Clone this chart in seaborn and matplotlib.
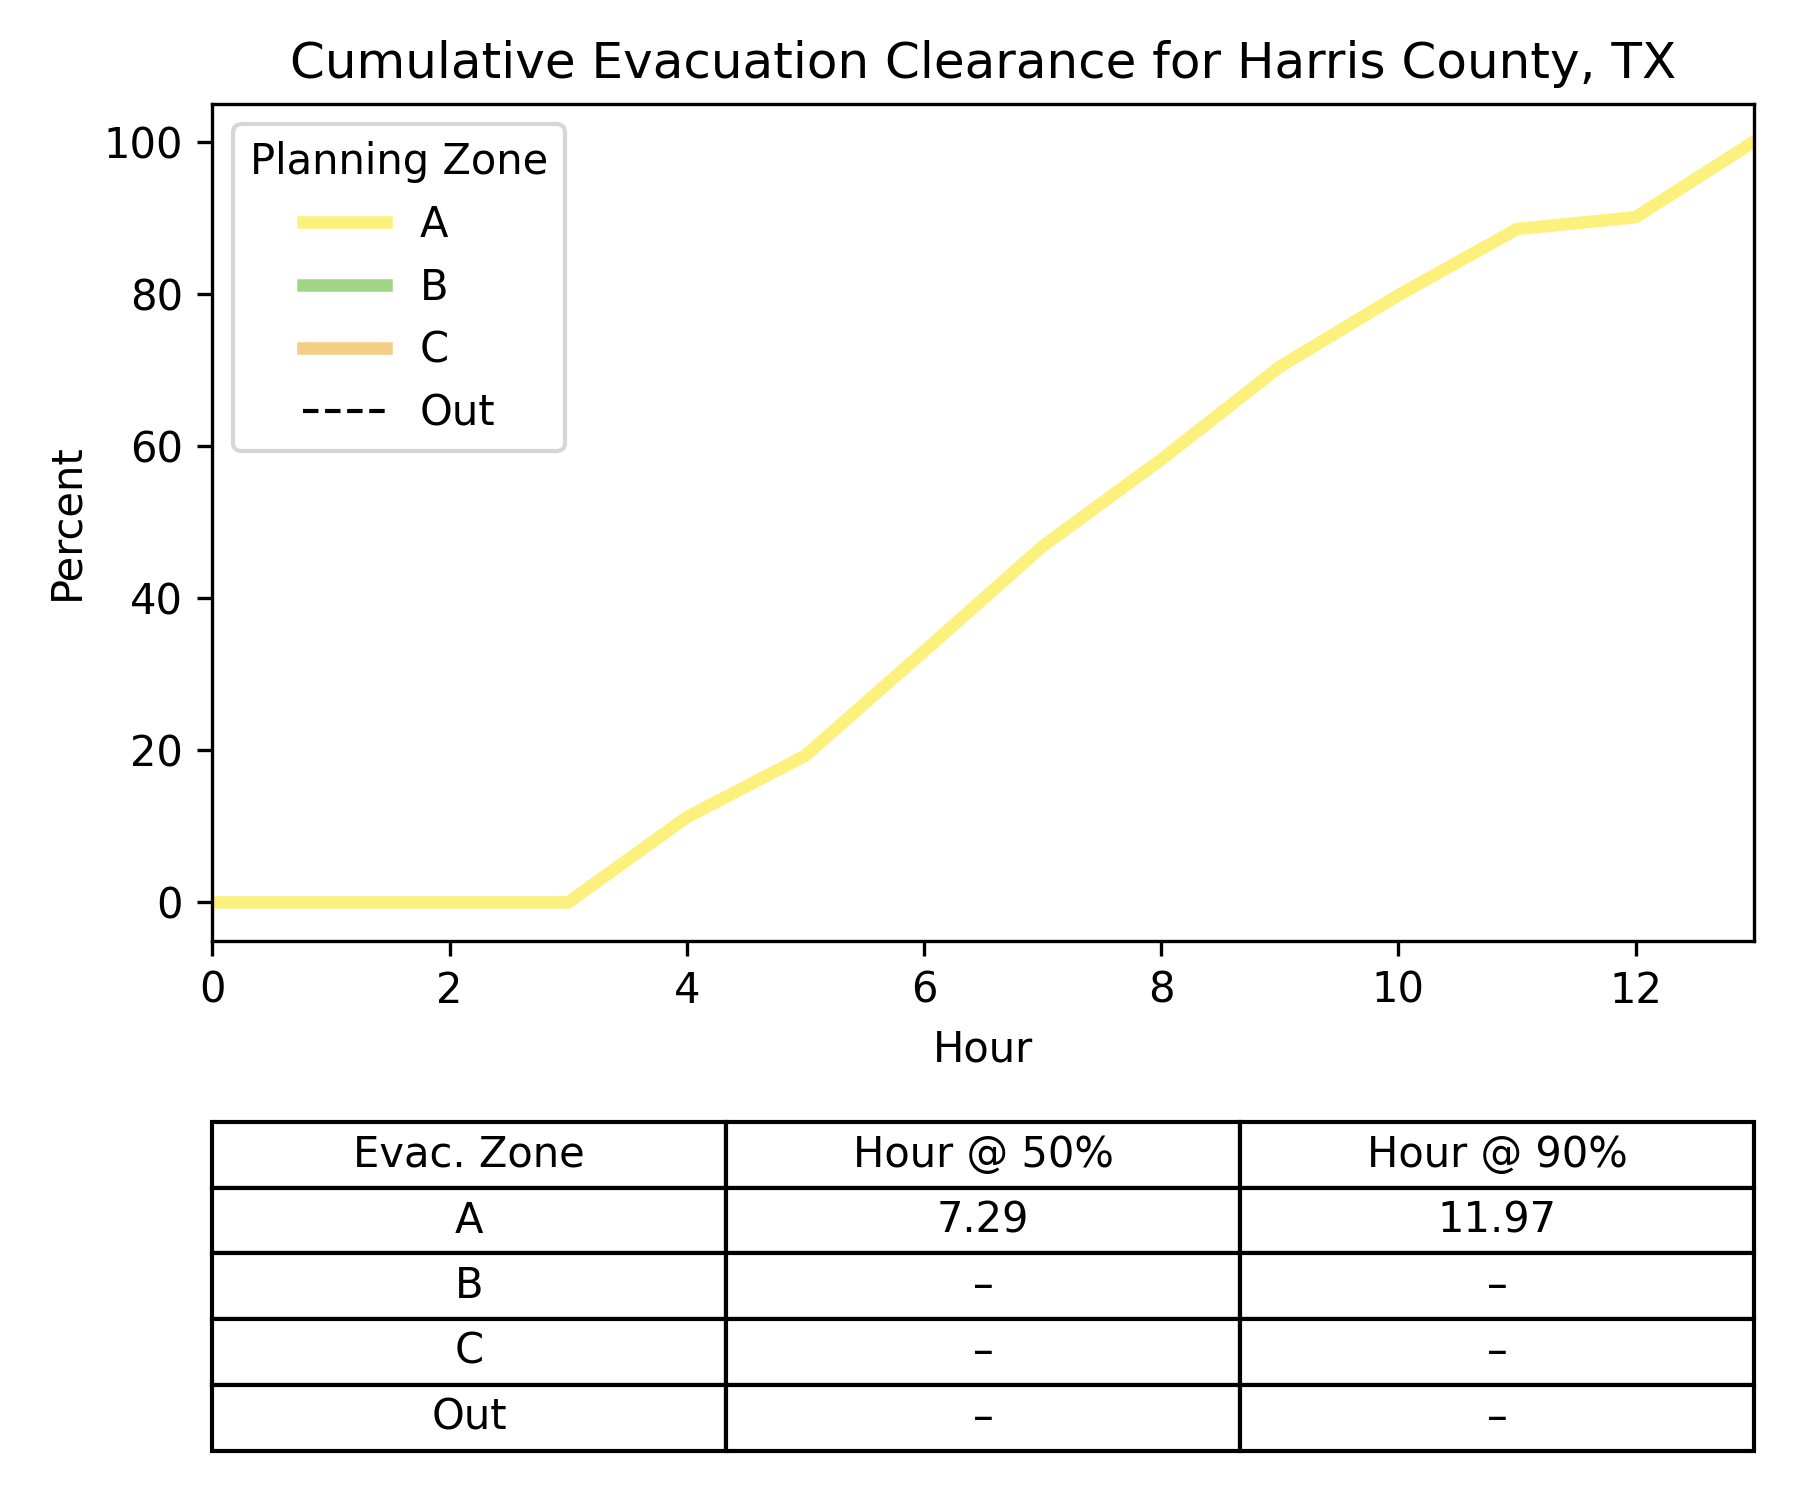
import numpy as np
import pandas as pd
import seaborn as sns
import matplotlib.pyplot as plt
from matplotlib.lines import Line2D

# data
hours = [0, 1, 2, 3, 4, 5, 6, 7, 8, 9, 10, 11, 12, 13]
pct_a = [0, 0, 0, 0, 11.2, 19.3, 33.0, 46.8, 58.2, 70.4, 79.8, 88.5, 90.05, 100]

zones = ['A', 'B', 'C', 'Out']
zone_colors = ['#fdf17e', '#a0d585', '#f3cd82', 'black']
hour_50 = ['7.29', '–', '–', '–']
hour_90 = ['11.97', '–', '–', '–']
col_labels = ['Evac. Zone', 'Hour @ 50%', 'Hour @ 90%']

df = pd.DataFrame({'Hour': hours, 'Percent': pct_a})

fig = plt.figure(figsize=(6, 5), dpi=300)
ax = fig.add_axes([0.118, 0.373, 0.8565, 0.558])

sns.lineplot(data=df, x='Hour', y='Percent', color=zone_colors[0], linewidth=3, ax=ax)
ax.set_xlim(0, 13)
ax.set_ylim(-5, 105)
ax.set_title('Cumulative Evacuation Clearance for Harris County, TX')

handles = [
    Line2D([], [], color=zone_colors[0], lw=3),
    Line2D([], [], color=zone_colors[1], lw=3),
    Line2D([], [], color=zone_colors[2], lw=3),
    Line2D([], [], color=zone_colors[3], lw=1, ls='--'),
]
ax.legend(handles, zones, title='Planning Zone', loc='upper left')

## summary table under the plot
tax = fig.add_axes([0.118, 0.033, 0.8565, 0.219])
tax.axis('off')
cells = [[z, a, b] for z, a, b in zip(zones, hour_50, hour_90)]
tbl = tax.table(cellText=cells, colLabels=col_labels, cellLoc='center',
                loc='center', bbox=[0, 0, 1, 1])
tbl.auto_set_font_size(False)
tbl.set_fontsize(10)

fig.savefig('out.png', dpi=300)
